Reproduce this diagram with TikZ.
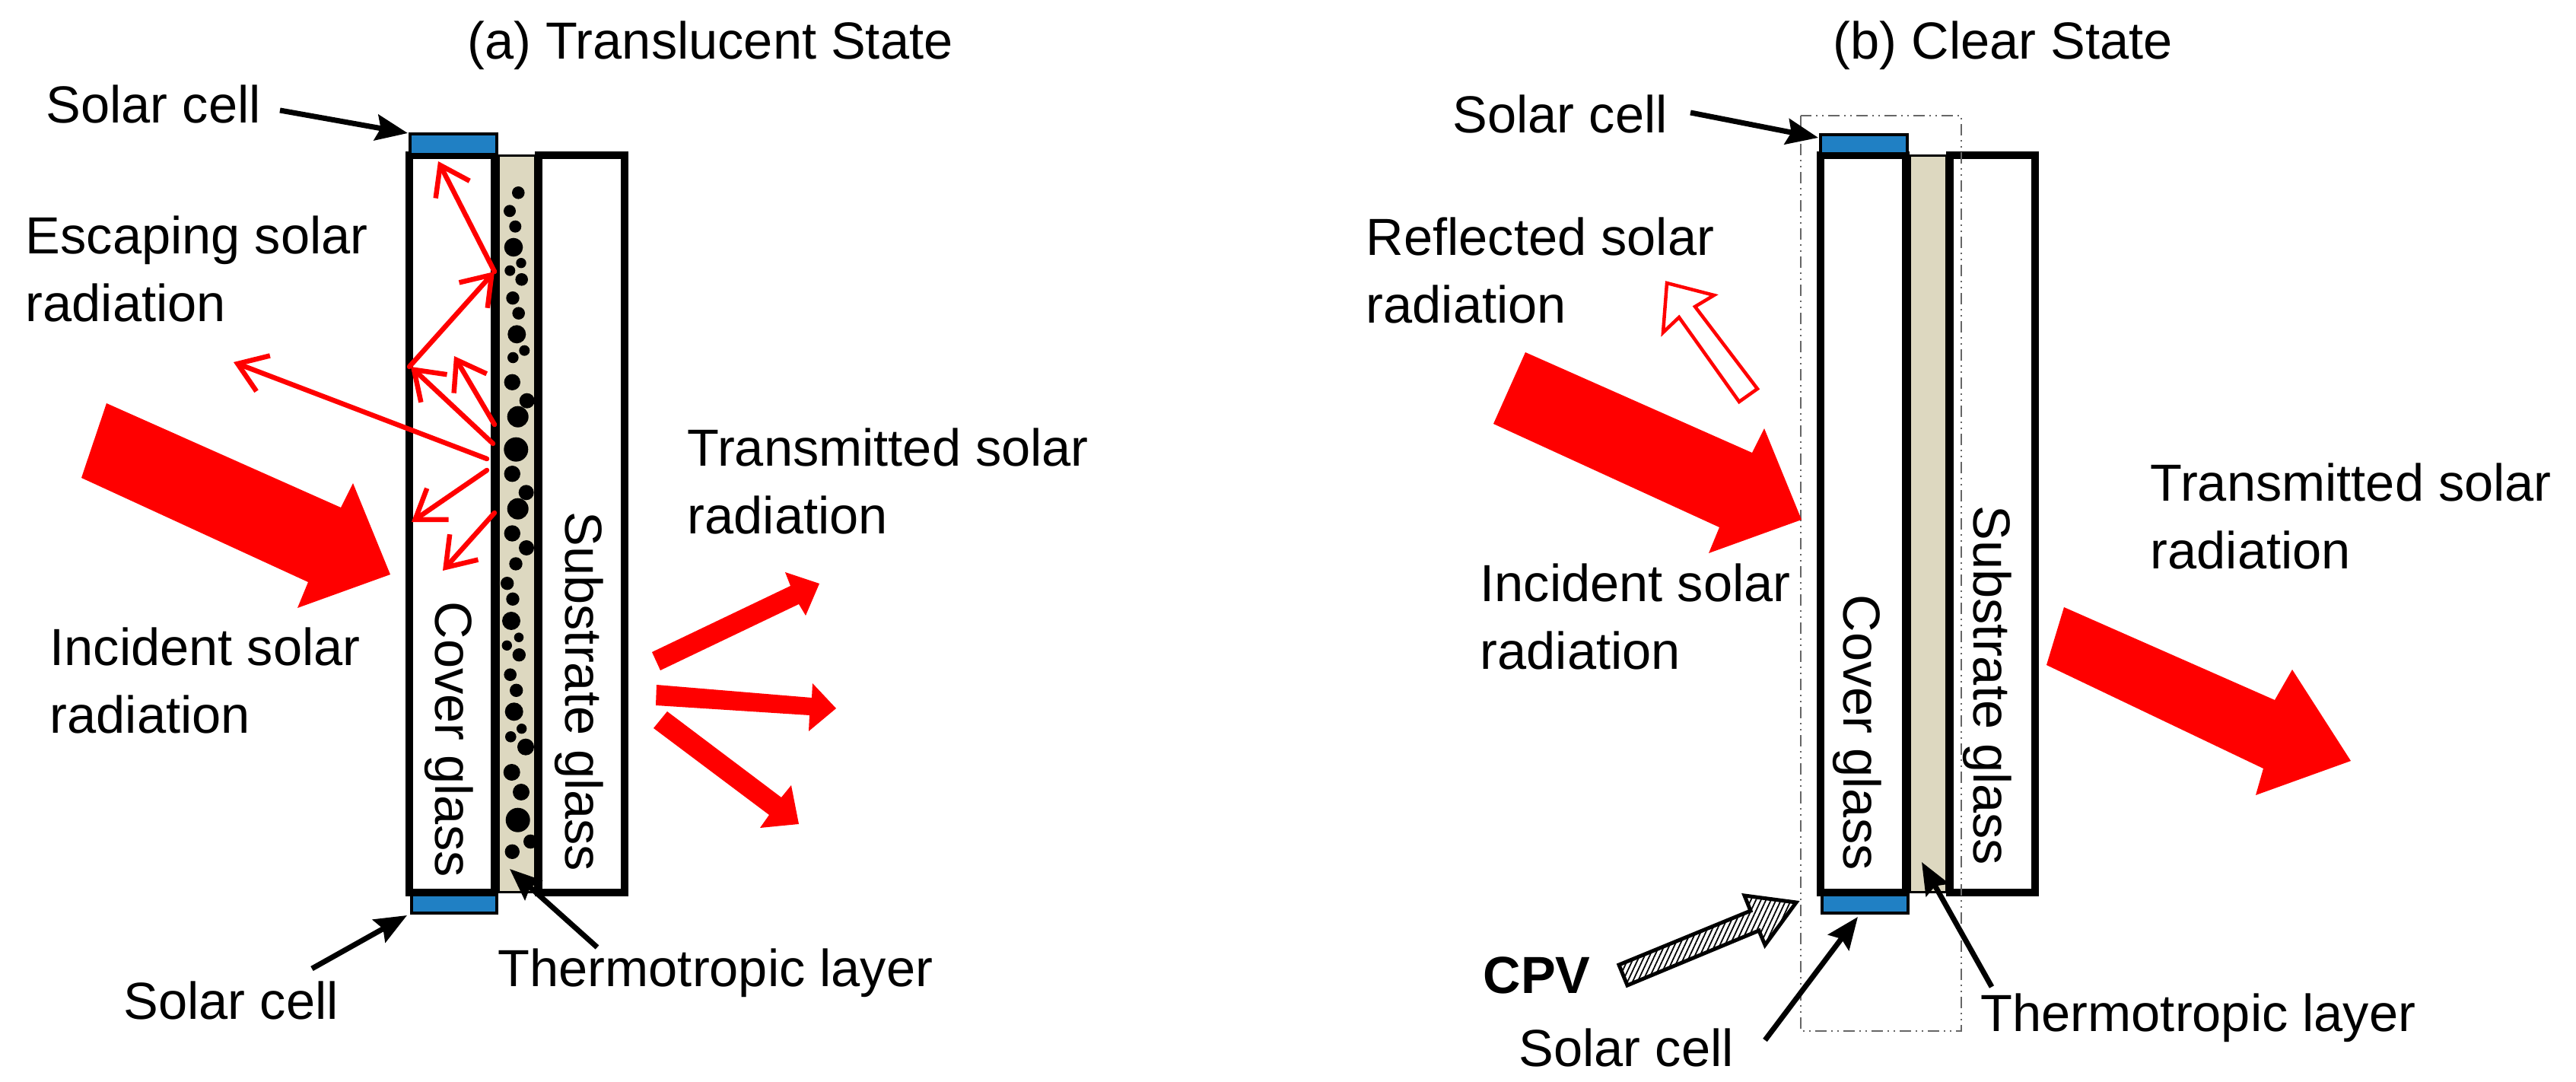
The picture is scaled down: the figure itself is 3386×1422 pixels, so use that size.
\documentclass[tikz,border=0pt]{standalone}
\usepackage{fontspec}
\setmainfont{Liberation Sans}
\usetikzlibrary{arrows.meta}
\usetikzlibrary{patterns.meta}
\definecolor{cellblue}{HTML}{2080C4}
\definecolor{layertan}{HTML}{DDD8C0}

\begin{document}
\begin{tikzpicture}[
    x=0.01cm, y=-0.01cm,
    label text/.style={font=\fontsize{19.5}{25.5}\selectfont, inner sep=0, anchor=base west, align=left},
    side text/.style={label text, rotate=-90},
    glass/.style={draw, line width=0.105cm, fill=white},
    layer/.style={draw, line width=0.03cm, fill=layertan},
    cell/.style={draw, line width=0.04cm, fill=cellblue},
    leader/.style={line width=0.07cm, -{Stealth[length=0.42cm,width=0.34cm,inset=0.06cm]}},
    ray/.style={red, line width=0.065cm, line cap=round, -{Straight Barb[length=0.36cm,width=0.5cm]}},
    beam/.style={fill=red},
    frame box/.style={gray!80!black, line width=0.025cm, dash pattern=on 0.15cm off 0.06cm on 0.02cm off 0.06cm on 0.02cm off 0.06cm}
]
    \useasboundingbox (0,0) rectangle (3386,1422);

    % (a)
    \path[layer] (655,205) rectangle (703,1173);
    \path[glass] (538,204) rectangle (650,1173);
    \path[glass] (708,204) rectangle (821,1173);
    \path[cell] (539,176) rectangle (653,203);
    \path[cell] (541,1176) rectangle (653,1200);

    \foreach \dx/\dy/\dr in {681.3/253.3/8.3, 670/277.3/8, 677.3/297.7/8, 675/325/12.3, 685/345.7/6.7,
        670.3/355.7/7, 685.7/367.3/8.3, 674/391.7/8.7, 681.7/411.7/8.3, 679.3/439.3/12, 689.3/460.7/7,
        674.3/470/7.3, 673.3/502.3/10.7, 692.7/526.7/10, 680.7/547.7/14, 678.3/590.7/16, 673.3/622.7/10.7,
        691.7/647.3/10, 680.7/668.7/14, 673.3/701/10.7, 692/720/10, 678/741/8.7, 666.7/766.7/8.7,
        674/787.3/8.7, 672/816/12, 682/837.7/6.3, 666.3/848.3/6.7, 682.3/860.7/8.7, 670.7/886.7/8.3,
        678.7/907.3/8.7, 675.7/935.3/12, 685.7/957.7/6.7, 671.3/968.3/7.3, 691/981.7/11, 672.7/1015/11,
        685/1041/11, 680.7/1077.7/16, 697.3/1106/9.3, 673.3/1119.3/9.7}
        \fill (\dx,\dy) circle (\dr);

    \foreach \n/\ax/\ay/\bx/\by in {1/650/357/576/212, 2/538/482/650/357, 3/648/583/540/482,
        4/650/558/597/468, 5/640/603/307/476, 6/640/618/541/686, 7/650/674/582/750}{
        \coordinate (ray\n a) at (\ax,\ay);
        \coordinate (ray\n b) at (\bx,\by);
        \draw[ray] (ray\n a) -- (ray\n b);
    }

    \fill[beam] (140,530) -- (107,628) -- (405,765) -- (391,799) -- (513,755) -- (464,635) -- (448,667) -- cycle;
    \fill[beam] (857,857) -- (868,881) -- (1050,794) -- (1059,809) -- (1077,767) -- (1032,752) -- (1039,770) -- cycle;
    \fill[beam] (863,900) -- (862,927) -- (1064,940) -- (1063,961) -- (1099,931) -- (1068,898) -- (1067,917) -- cycle;
    \fill[beam] (877,935) -- (859,957) -- (1011,1071) -- (999,1088) -- (1050,1083) -- (1040,1032) -- (1027,1048) -- cycle;

    \coordinate (cellTopTail) at (368,145);
    \coordinate (cellTopTip) at (536,175);
    \coordinate (cellBotTail) at (410,1273);
    \coordinate (cellBotTip) at (535,1203);
    \coordinate (layerTail) at (785,1245);
    \coordinate (layerTip) at (670,1142);
    \draw[leader] (cellTopTail) -- (cellTopTip);
    \draw[leader] (cellBotTail) -- (cellBotTip);
    \draw[leader] (layerTail) -- (layerTip);

    \node[label text] (titleA) at (614,78) {(a) Translucent State};
    \node[label text] (cellTop) at (60,162) {Solar cell};
    \node[label text] (escape) at (33,423) {Escaping solar\\radiation};
    \node[label text] (incidentA) at (65,964) {Incident solar\\radiation};
    \node[label text] (transA) at (903,702) {Transmitted solar\\radiation};
    \node[label text] (cellBot) at (162,1340) {Solar cell};
    \node[label text] (layerA) at (654,1297) {Thermotropic layer};
    \node[side text] (coverA) at (572,790) {Cover glass};
    \node[side text] (subA) at (743,672) {Substrate glass};

    % (b)
    \path[layer] (2510,205) rectangle (2558,1173);
    \path[glass] (2393,204) rectangle (2505,1173);
    \path[glass] (2563,204) rectangle (2675,1173);
    \path[cell] (2393,177) rectangle (2507,202);
    \path[cell] (2395,1176) rectangle (2508,1200);
    \draw[frame box] (2367,152) rectangle (2578,1355);

    \fill[beam] (2005,463) -- (1963,557) -- (2260,693) -- (2246,727) -- (2368,683) -- (2319,563) -- (2303,595) -- cycle;
    \draw[red, line width=0.045cm, fill=white] (2191,372) -- (2253,388) -- (2228,403) -- (2310,511) -- (2286,528) -- (2207,417) -- (2186,437) -- cycle;
    \fill[beam] (2713,798) -- (2690,874) -- (2975,1010) -- (2965,1045) -- (3090,1000) -- (3013,880) -- (2990,920) -- cycle;
    \draw[line width=0.05cm, preaction={fill=white}, pattern={Lines[angle=65,distance=1.7pt,line width=0.5pt]}]
        (2128,1268) -- (2139,1295) -- (2312,1223) -- (2320,1242) -- (2361,1186) -- (2293,1177) -- (2301,1197) -- cycle;

    \coordinate (cellTopTailB) at (2222,148);
    \coordinate (cellTopTipB) at (2390,181);
    \coordinate (cellBotTailB) at (2320,1367);
    \coordinate (cellBotTipB) at (2442,1205);
    \coordinate (layerTailB) at (2618,1297);
    \coordinate (layerTipB) at (2526,1133);
    \draw[leader] (cellTopTailB) -- (cellTopTipB);
    \draw[leader] (cellBotTailB) -- (cellBotTipB);
    \draw[leader] (layerTailB) -- (layerTipB);

    \node[label text] (titleB) at (2409,78) {(b) Clear State};
    \node[label text] (cellTopB) at (1909,175) {Solar cell};
    \node[label text] (reflect) at (1795,425) {Reflected solar\\radiation};
    \node[label text] (incidentB) at (1945,880) {Incident solar\\radiation};
    \node[label text] (transB) at (2826,748) {Transmitted solar\\radiation};
    \node[label text, font=\fontsize{19.5}{25.5}\selectfont\bfseries] (cpv) at (1949,1306) {CPV};
    \node[label text] (cellBotB) at (1996,1402) {Solar cell};
    \node[label text] (layerB) at (2603,1355) {Thermotropic layer};
    \node[side text] (coverB) at (2423,781) {Cover glass};
    \node[side text] (subB) at (2594,664) {Substrate glass};
\end{tikzpicture}
\end{document}
